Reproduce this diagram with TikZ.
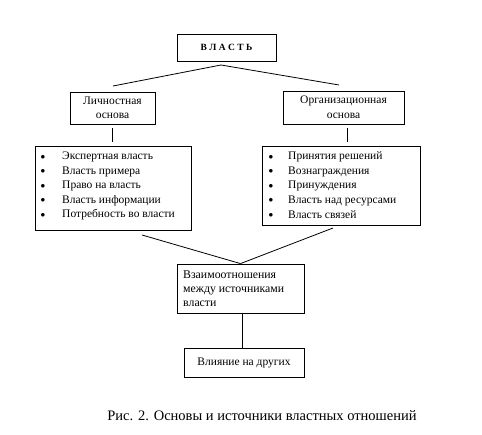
\documentclass[tikz,border=0pt]{standalone}
\usepackage{fontspec}
\setmainfont{Liberation Serif}
\usepackage{tikz}
\usetikzlibrary{positioning,calc}

\begin{document}
\begin{tikzpicture}[x=1pt, y=-1pt,
    box/.style={draw, thick, inner sep=0pt, font=\fontsize{11.5}{14.5}\selectfont},
    link/.style={thick}]

\useasboundingbox[fill=white] (0, 0) rectangle (482, 435);

% Top box
\node[box, minimum width=99pt, minimum height=27pt, font=\fontsize{9.5}{10}\selectfont\bfseries] (vlast) at (226.5, 47.5) {В Л А С Т Ь};

% Two bases
\node[box, minimum width=85pt, minimum height=32pt, align=center] (lichn) at (112.5, 108) {Личностная\\основа};
\node[box, minimum width=121pt, minimum height=33pt, align=center] (org) at (343.5, 107.5) {Организационная\\основа};

% List boxes
\node[box, minimum width=156pt, minimum height=84pt] (leftlist) at (113, 188) {};
\node[box, minimum width=158pt, minimum height=79pt] (rightlist) at (341, 185.5) {};

\foreach \i/\txt in {1/Экспертная власть, 2/Власть примера, 3/Право на власть, 4/Власть информации, 5/Потребность во власти} {
    \node[font=\fontsize{9}{10}\selectfont] (lb\i) at (43, 142.5 + 14.5*\i) {$\bullet$};
    \node[anchor=west, inner sep=0pt, font=\fontsize{11.5}{14.5}\selectfont] (lt\i) at (62, 142.5 + 14.5*\i) {\txt};
}
\foreach \i/\txt in {1/Принятия решений, 2/Вознаграждения, 3/Принуждения, 4/Власть над ресурсами, 5/Власть связей} {
    \node[font=\fontsize{9}{10}\selectfont] (rb\i) at (271, 142.5 + 14.5*\i) {$\bullet$};
    \node[anchor=west, inner sep=0pt, font=\fontsize{11.5}{14.5}\selectfont] (rt\i) at (288, 142.5 + 14.5*\i) {\txt};
}

% Relations and influence
\node[box, minimum width=127pt, minimum height=49pt] (vzaim) at (240.5, 288.5) {};
\node[anchor=west, align=left, inner sep=0pt, font=\fontsize{11.8}{14}\selectfont] (vzaimtxt) at (183, 289) {Взаимоотношения\\между источниками\\власти};
\node[box, minimum width=120pt, minimum height=29pt] (vliyan) at (244, 362.5) {Влияние на других};

% Caption
\node[font=\fontsize{14.5}{16}\selectfont] (caption) at (262, 416) {Рис. 2. Основы и источники властных отношений};

% Free ends of connectors
\coordinate (apex) at (221, 65);
\coordinate (lend) at (113, 86);
\coordinate (rend) at (339, 85);
\coordinate (lstart) at (142, 235);
\coordinate (rstart) at (333, 228);

% Connectors
\draw[link] (apex) -- (lend);
\draw[link] (apex) -- (rend);
\draw[link] ([yshift=-4pt]lichn.south) -- ([yshift=4pt]leftlist.north -| lichn.south);
\draw[link] ([xshift=3.5pt, yshift=-4pt]org.south) -- ([xshift=3.5pt, yshift=4pt]rightlist.north -| org.south);
\draw[link] (lstart) -- (vzaim.north);
\draw[link] (rstart) -- (vzaim.north);
\draw[link] ([xshift=1.5pt]vzaim.south) -- ([xshift=1.5pt]vzaim.south |- vliyan.north);

\end{tikzpicture}
\end{document}
